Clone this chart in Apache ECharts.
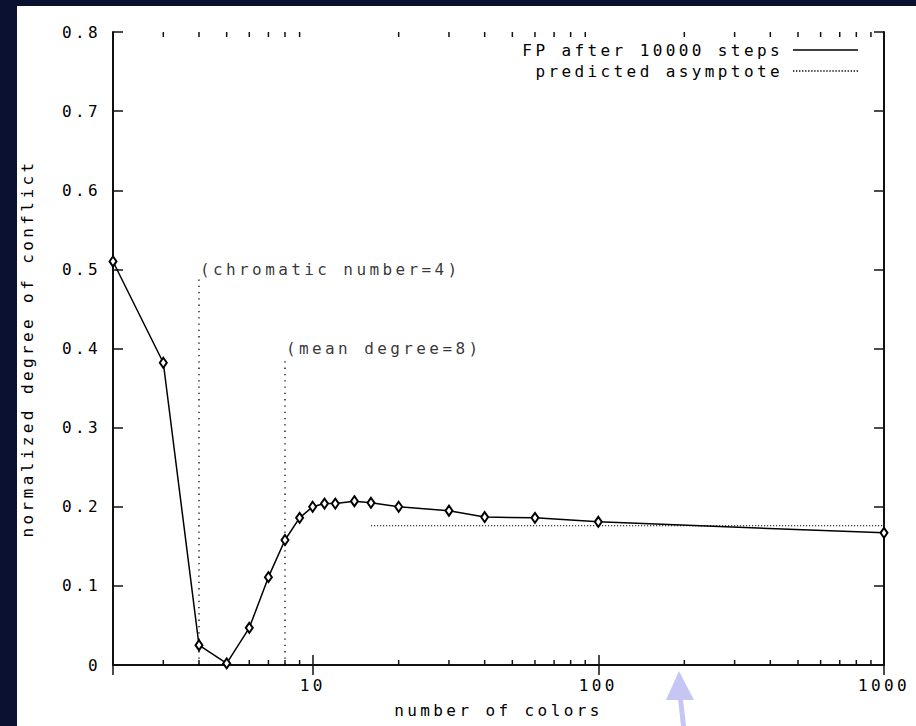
<!DOCTYPE html>
<html><head><meta charset="utf-8">
<script src="https://cdn.jsdelivr.net/npm/echarts@6/dist/echarts.min.js"></script>
<style>
html,body{margin:0;padding:0;background:#0b1130;width:916px;height:726px;overflow:hidden;}
#main{position:absolute;left:17px;top:6px;width:899px;height:720px;background:#fff;}
#main text{letter-spacing:3.4px;}
</style></head><body><div id="main"></div>
<script>
// ---- data ----
const colors = [2, 3, 4, 5, 6, 7, 8, 9, 10, 11, 12, 14, 16, 20, 30, 40, 60, 100, 1000];
const conflict = [0.510, 0.382, 0.025, 0.002, 0.047, 0.111, 0.158, 0.186, 0.200, 0.204, 0.204, 0.207, 0.205, 0.200, 0.195, 0.187, 0.186, 0.181, 0.167];
const asymX = [16, 1000];
const asymY = [0.176, 0.176];
const markerX = [4, 8];
const markerTop = [0.49, 0.39];
const markerLabelY = [0.5, 0.4];
const markerText = ['(chromatic number=4)', '(mean degree=8)'];
const xTickValues = [10, 100, 1000];
const xTickLabels = ['10', '100', '1000'];
const yTickLabels = ['0', '0.1', '0.2', '0.3', '0.4', '0.5', '0.6', '0.7', '0.8'];
const minorXTicks = [3, 4, 5, 6, 7, 8, 9, 20, 30, 40, 50, 60, 70, 80, 90, 200, 300, 400, 500, 600, 700, 800, 900];
const seriesNames = ['FP after 10000 steps', 'predicted asymptote'];
const xTitle = 'number of colors';
const yTitle = 'normalized degree of conflict';
const xMin = 2, xMax = 1000, yMin = 0, yMax = 0.8, yStep = 0.1;

// ---- chart ----
const FONT = 'DejaVu Sans Mono';
const txt = {fontFamily: FONT, fontSize: 16, color: '#000'};
const axLine = {show: true, lineStyle: {color: '#111', width: 2}};
const axTick = {show: true, inside: true, length: 10, lineStyle: {color: '#111', width: 1.5}};

// legend sample shapes: solid bar and a row of dots
const solidIcon = 'path://M0,0H65V1.6H0Z';
let dotPath = '';
for (let k = 0; k <= 63; k += 3) dotPath += 'M' + k + ',0h1.3v1.3h-1.3z';
const dottedIcon = 'path://' + dotPath;

const chart = echarts.init(document.getElementById('main'), null, {renderer: 'svg'});

const series = [
  {
    type: 'line', name: seriesNames[1], data: asymX.map((x, i) => [x, asymY[i]]),
    symbol: 'none', lineStyle: {color: '#000', width: 1.2, type: [1.2, 1.8]}, itemStyle: {color: '#000'}, z: 3, silent: true
  },
  {
    type: 'line', name: seriesNames[0], data: colors.map((x, i) => [x, conflict[i]]),
    symbol: 'emptyDiamond', symbolSize: [7, 10],
    lineStyle: {color: '#000', width: 1.5}, itemStyle: {color: '#000', borderWidth: 1.5}, z: 5, silent: true
  }
];
markerX.forEach((x, i) => {
  series.push({
    type: 'line', name: 'marker' + i, data: [[x, yMin], [x, markerTop[i]]],
    symbol: 'none', lineStyle: {color: '#000', width: 1.3, type: [1.3, 5]}, z: 2, silent: true
  });
});
series.push({
  type: 'scatter', name: 'markerLabels', symbolSize: 0, silent: true,
  data: markerX.map((x, i) => ({value: [x, markerLabelY[i]], label: {formatter: markerText[i]}})),
  label: {show: true, position: 'right', distance: 1, ...txt}
});
series.push({
  type: 'custom', name: 'minorTicks', silent: true, clip: false,
  data: minorXTicks.map(v => [v, yMin]),
  renderItem: (params, api) => {
    const x = api.value(0);
    const b = api.coord([x, yMin]);
    const t = api.coord([x, yMax]);
    const st = {stroke: '#111', lineWidth: 1.5};
    return {type: 'group', children: [
      {type: 'line', shape: {x1: b[0], y1: b[1], x2: b[0], y2: b[1] - 5}, style: st},
      {type: 'line', shape: {x1: t[0], y1: t[1], x2: t[0], y2: t[1] + 5}, style: st}
    ]};
  }
});

chart.setOption({
  animation: false,
  backgroundColor: '#fff',
  grid: {left: 96, top: 26, right: 32, bottom: 61, containLabel: false, outerBoundsMode: 'none'},
  legend: {
    data: [{name: seriesNames[0], icon: solidIcon}, {name: seriesNames[1], icon: dottedIcon}],
    orient: 'vertical', right: 58, top: 36, align: 'right', padding: 0,
    itemWidth: 65, itemHeight: 14, itemGap: 5, selectedMode: false,
    textStyle: {...txt, padding: [0, 5, 0, 0]},
    itemStyle: {color: '#000', borderWidth: 0}
  },
  xAxis: [
    {
      type: 'log', logBase: 10, min: xMin, max: xMax, position: 'bottom',
      axisLine: axLine, axisTick: axTick, splitLine: {show: false}, minorTick: {show: false},
      axisLabel: {...txt, margin: 12, showMinLabel: false,
        formatter: v => { const k = xTickValues.indexOf(Math.round(v)); return k >= 0 ? xTickLabels[k] : ''; }},
      name: xTitle, nameLocation: 'middle', nameGap: 37, nameTextStyle: {...txt}
    },
    {
      type: 'log', logBase: 10, min: xMin, max: xMax, position: 'top',
      axisLine: axLine, axisTick: axTick, splitLine: {show: false}, axisLabel: {show: false}
    }
  ],
  yAxis: [
    {
      type: 'value', min: yMin, max: yMax, interval: yStep, position: 'left',
      axisLine: axLine, axisTick: axTick, splitLine: {show: false},
      axisLabel: {...txt, margin: 12, formatter: (v, i) => yTickLabels[i]},
      name: yTitle, nameLocation: 'middle', nameGap: 78, nameTextStyle: {...txt}
    },
    {
      type: 'value', min: yMin, max: yMax, interval: yStep, position: 'right',
      axisLine: axLine, axisTick: axTick, splitLine: {show: false}, axisLabel: {show: false}
    }
  ],
  series: series,
  graphic: [
    {type: 'polygon', silent: true, shape: {points: [[662, 665], [649, 694], [677, 694]]}, style: {fill: '#c6c6f4'}},
    {type: 'polygon', silent: true, shape: {points: [[661, 693], [666, 693], [669, 720], [664, 720]]}, style: {fill: '#c6c6f4'}}
  ]
});
</script></body></html>
